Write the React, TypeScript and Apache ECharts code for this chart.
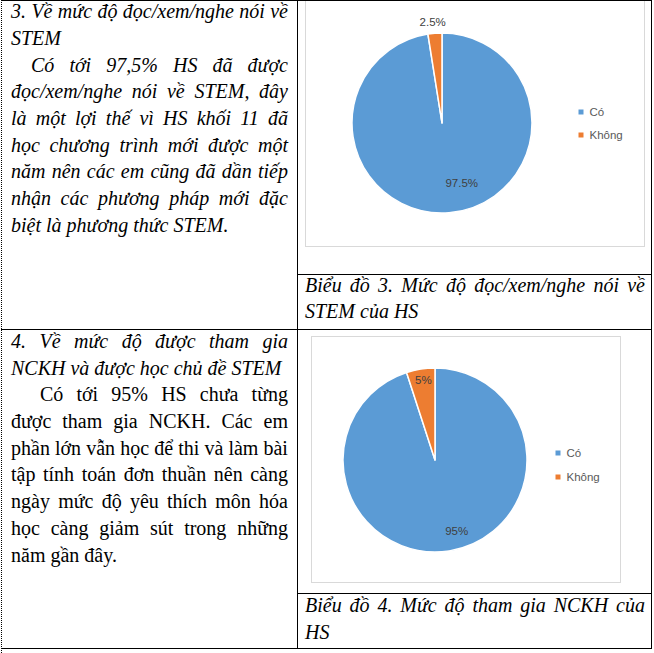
import React, { useEffect, useRef } from "react";
import * as echarts from "echarts";

const categories = ["Có", "Không"];
const chart3Values = [97.5, 2.5];
const chart4Values = [95, 5];
const sliceColors = ["#5B9BD5", "#ED7D31"];

type Line = { text: string; justify?: boolean; italic?: boolean; indent?: number };

const cell1Lines: Line[] = [
  { text: "3. Về mức độ đọc/xem/nghe nói về", justify: true, italic: true },
  { text: "STEM", italic: true },
  { text: "Có tới 97,5% HS đã được", justify: true, italic: true, indent: 20 },
  { text: "đọc/xem/nghe nói về STEM, đây", justify: true, italic: true },
  { text: "là một lợi thế vì HS khối 11 đã", justify: true, italic: true },
  { text: "học chương trình mới được một", justify: true, italic: true },
  { text: "năm nên các em cũng đã dần tiếp", justify: true, italic: true },
  { text: "nhận các phương pháp mới đặc", justify: true, italic: true },
  { text: "biệt là phương thức STEM.", italic: true },
];

const cell2Lines: Line[] = [
  { text: "4. Về mức độ được tham gia", justify: true, italic: true },
  { text: "NCKH và được học chủ đề STEM", italic: true },
  { text: "Có tới 95% HS chưa từng", justify: true, indent: 29 },
  { text: "được tham gia NCKH. Các em", justify: true },
  { text: "phần lớn vẫn học để thi và làm bài", justify: true },
  { text: "tập tính toán đơn thuần nên càng", justify: true },
  { text: "ngày mức độ yêu thích môn hóa", justify: true },
  { text: "học càng giảm sút trong những", justify: true },
  { text: "năm gần đây." },
];

const caption3Lines: Line[] = [
  { text: "Biểu đồ 3. Mức độ đọc/xem/nghe nói về", justify: true, italic: true },
  { text: "STEM của HS", italic: true },
];

const caption4Lines: Line[] = [
  { text: "Biểu đồ 4. Mức độ tham gia NCKH của", justify: true, italic: true },
  { text: "HS", italic: true },
];

const SERIF = "'Liberation Serif', 'DejaVu Serif', serif";
const SANS = "'Liberation Sans', Arial, sans-serif";
const LH = 26.7;
const FS = 20;

function TextBlock({ x, top, width, lines }: { x: number; top: number; width: number; lines: Line[] }) {
  return (
    <>
      {lines.map((l, i) => {
        const ind = l.indent || 0;
        return (
          <div
            key={i}
            style={{
              position: "absolute",
              left: x + ind,
              top: top + i * LH,
              width: width - ind,
              height: LH,
              lineHeight: LH + "px",
              fontSize: FS,
              fontFamily: SERIF,
              fontStyle: l.italic ? "italic" : "normal",
              whiteSpace: "nowrap",
              display: l.justify ? "flex" : "block",
              justifyContent: "space-between",
              color: "#000",
            }}
          >
            {l.justify
              ? l.text.split(" ").map((w, j) => <span key={j}>{w + " "}</span>)
              : l.text}
          </div>
        );
      })}
    </>
  );
}

function Rule({ x, y, w, h }: { x: number; y: number; w: number; h: number }) {
  return <div style={{ position: "absolute", left: x, top: y, width: w, height: h, background: "#000" }} />;
}

export default function App() {
  const ref = useRef<HTMLDivElement>(null);

  useEffect(() => {
    if (!ref.current) return;
    const chart = echarts.init(ref.current, null, { renderer: "svg" });
    const labelBase = {
      show: true,
      position: "inside",
      formatter: (p: any) => p.value + "%",
      color: "#404040",
      fontSize: 11.5,
      fontFamily: SANS,
    };
    const mk = (vals: number[], offsets: number[][]) =>
      categories.map((name, i) => ({
        name,
        value: vals[i],
        itemStyle: { color: sliceColors[i] },
        label: { offset: offsets[i] },
      }));
    const pieCommon = {
      type: "pie",
      startAngle: 90,
      clockwise: true,
      avoidLabelOverlap: false,
      silent: true,
      label: labelBase,
      labelLine: { show: false },
      itemStyle: { borderColor: "#fff", borderWidth: 1.5 },
      emphasis: { disabled: true },
    };
    const legendCommon = {
      data: categories,
      orient: "vertical",
      icon: "rect",
      itemWidth: 7,
      itemHeight: 7,
      padding: 0,
      selectedMode: false,
      textStyle: { color: "#595959", fontSize: 11.5, lineHeight: 14, fontFamily: SANS },
    };
    chart.setOption({
      animation: false,
      color: sliceColors,
      legend: [
        { ...legendCommon, left: 576.5, top: 105, itemGap: 9 },
        { ...legendCommon, left: 553.5, top: 446, itemGap: 10 },
      ],
      series: [
        {
          ...pieCommon,
          name: "Biểu đồ 3",
          center: [442, 123],
          radius: 90,
          data: mk(chart3Values, [[16, 12], [-5.5, -53]]),
        },
        {
          ...pieCommon,
          name: "Biểu đồ 4",
          center: [435, 460],
          radius: 92,
          data: mk(chart4Values, [[14, 23], [-4, -32]]),
        },
      ],
    });
    return () => chart.dispose();
  }, []);

  return (
    <div style={{ position: "fixed", left: 0, top: 0, width: 654, height: 653, background: "#fff", overflow: "hidden" }}>
      <div style={{ position: "absolute", left: 305, top: -2, width: 340, height: 249, border: "1px solid #d9d9d9", boxSizing: "border-box" }} />
      <div style={{ position: "absolute", left: 311, top: 336, width: 310, height: 247, border: "1px solid #d9d9d9", boxSizing: "border-box" }} />

      <div style={{ position: "absolute", left: 1, top: 0, width: 0, height: 653, borderLeft: "1px dotted #000" }} />
      <Rule x={1} y={0} w={651} h={1} />
      <Rule x={297} y={0} w={1} h={649} />
      <Rule x={651} y={0} w={1} h={649} />
      <Rule x={297} y={274} w={355} h={1} />
      <Rule x={1} y={329} w={651} h={1} />
      <Rule x={297} y={593} w={355} h={1} />
      <Rule x={1} y={648} w={651} h={1} />

      <TextBlock x={11} top={-1.8} width={277} lines={cell1Lines} />
      <TextBlock x={11} top={327.9} width={277} lines={cell2Lines} />
      <TextBlock x={305} top={271.6} width={340} lines={caption3Lines} />
      <TextBlock x={305} top={591.9} width={340} lines={caption4Lines} />

      <div ref={ref} style={{ position: "absolute", left: 0, top: 0, width: 654, height: 653, pointerEvents: "none" }} />
    </div>
  );
}
